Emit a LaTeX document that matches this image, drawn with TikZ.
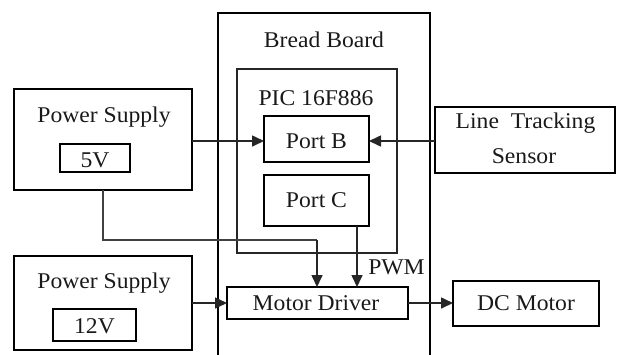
\documentclass[tikz,border=0pt]{standalone}
\usepackage{fontspec}
\setmainfont{Liberation Serif}[FakeStretch=1.05]
\usetikzlibrary{arrows.meta}
\begin{document}
\begin{tikzpicture}[x=1pt,y=-1pt,
  box/.style={draw=black,line width=2.6pt,inner sep=0pt,outer sep=0pt,rectangle},
  thinbox/.style={draw=black!85,line width=2pt,inner sep=0pt,outer sep=0pt,rectangle},
  txt/.style={inner sep=0pt,anchor=base,font=\fontsize{22.5}{25}\selectfont,text=black!90},
  conn/.style={draw=black!85,line width=1.6pt,-{Triangle[length=12pt,width=11pt]}},
  wire/.style={draw=black!75,line width=1.6pt}]
\useasboundingbox (0,0) rectangle (617,354);
% bread board (open at bottom)
\draw[line width=2.6pt] (218,356) -- (218,13) -- (430,13) -- (430,356);
\node[txt] (bbt) at (324,47) {Bread Board};
% nodes
\node[thinbox,minimum width=160pt,minimum height=184pt] (pic) at (317,161) {};
\node[txt] (pict) at (316,105) {PIC 16F886};
\node[box,minimum width=105pt,minimum height=46pt] (portb) at (316.5,139) {};
\node[txt] (portbt) at (316.5,148) {Port B};
\node[box,minimum width=105pt,minimum height=51pt] (portc) at (316.5,200.5) {};
\node[txt] (portct) at (316.5,207) {Port C};
\node[box,minimum width=178pt,minimum height=101pt] (ps1) at (103,139.5) {};
\node[txt] (ps1t) at (104,122.7) {Power Supply};
\node[box,minimum width=70pt,minimum height=28pt] (v5) at (95,158) {};
\node[txt] (v5t) at (95,167) {5V};
\node[box,minimum width=178pt,minimum height=94pt] (ps2) at (103,303) {};
\node[txt] (ps2t) at (104,288) {Power Supply};
\node[box,minimum width=83pt,minimum height=32pt] (v12) at (94.5,325) {};
\node[txt] (v12t) at (94.5,333) {12V};
\node[box,minimum width=180pt,minimum height=66pt] (sensor) at (525,140) {};
\node[txt] (sensort1) at (525.5,128) {Line\ \ Tracking};
\node[txt] (sensort2) at (524,163) {Sensor};
\node[box,minimum width=181pt,minimum height=32pt] (driver) at (317.5,303) {};
\node[txt] (drivert) at (316,310) {Motor Driver};
\node[box,minimum width=146pt,minimum height=45pt] (motor) at (526,303.5) {};
\node[txt] (motort) at (526,310) {DC Motor};
\node[txt] (pwm) at (396.5,274) {PWM};
% connectors
\draw[conn] (ps1.east |- 0,141) -- (portb.west |- 0,141);
\draw[conn] (sensor.west |- 0,141) -- (portb.east |- 0,141);
\draw[conn] (ps2.east) -- (ps2.east -| driver.west);
\draw[conn] (driver.east) -- (driver.east -| motor.west);
\coordinate (j) at (317,240);
\draw[wire] (ps1.south) |- (j);
\draw[conn] (j) -- (j |- driver.north);
\coordinate (pcw) at (357,226);
\draw[conn] (pcw) -- (pcw |- driver.north);
\end{tikzpicture}
\end{document}
